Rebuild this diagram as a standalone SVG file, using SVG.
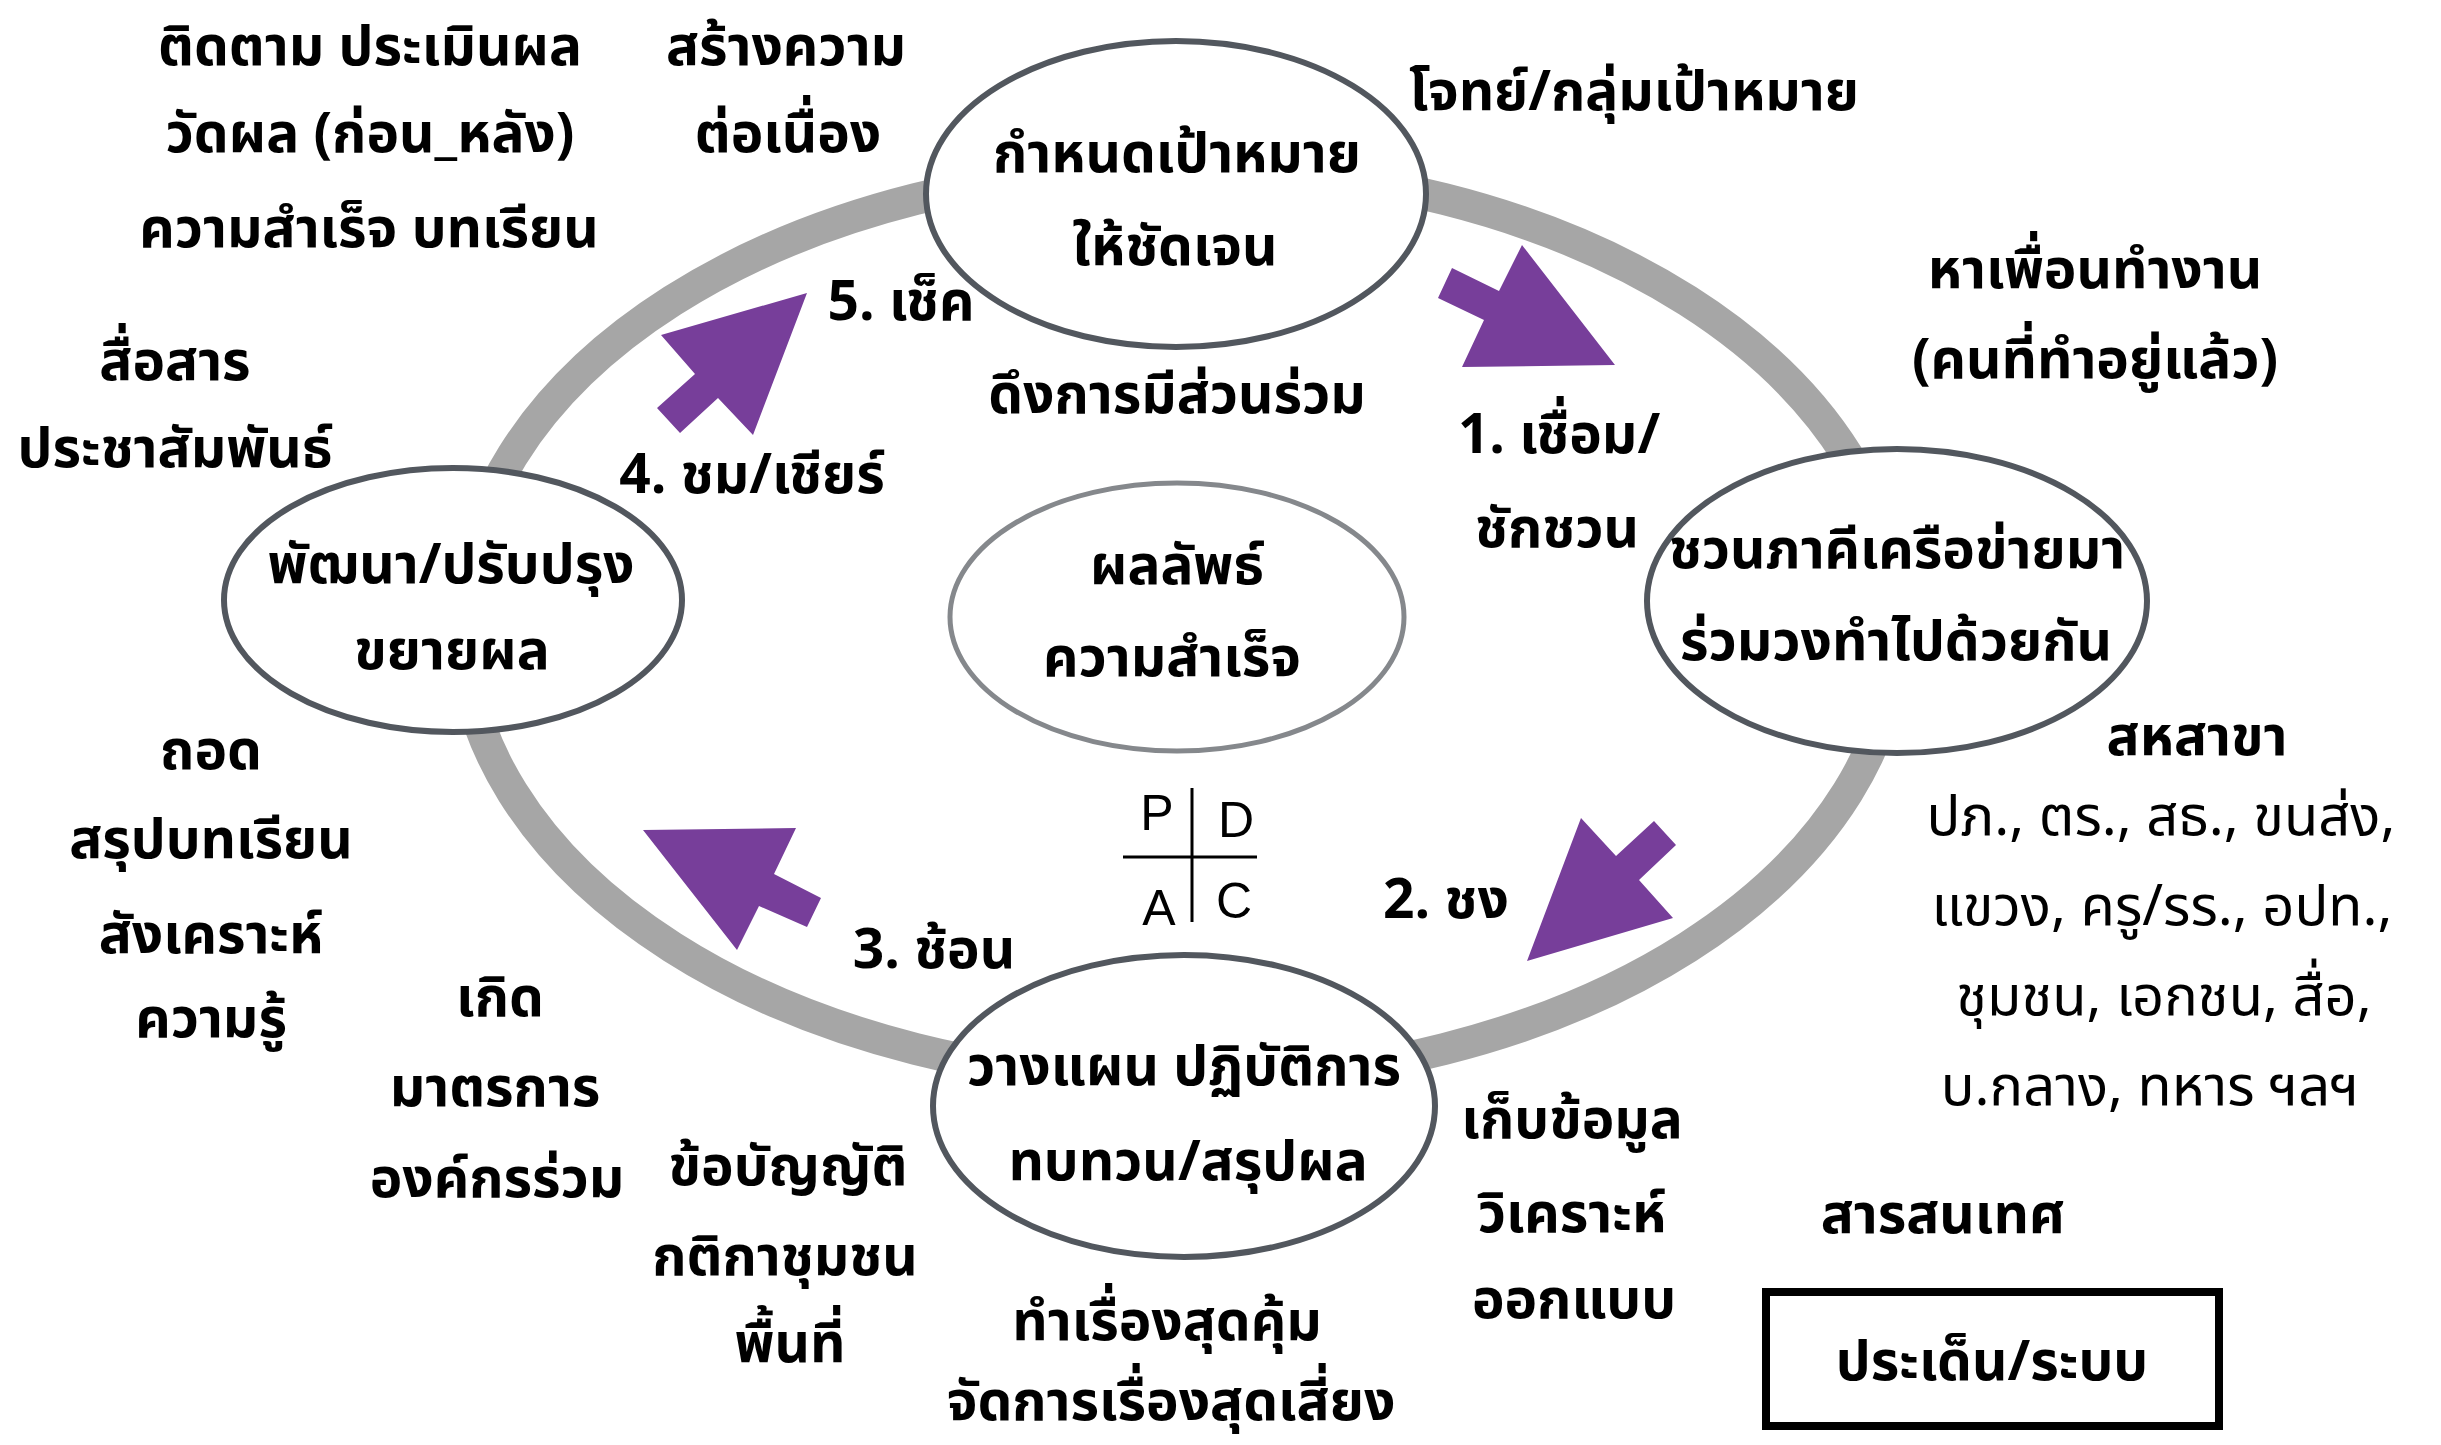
<svg xmlns="http://www.w3.org/2000/svg" width="2441" height="1445" viewBox="0 0 2441 1445">
<style>
text{font-family:"Noto Sans Thai","Noto Sans","DejaVu Sans",sans-serif;font-size:55px;font-weight:bold;fill:#000;text-anchor:middle}
.n{font-weight:normal;font-size:56px}
.pd{font-family:"Liberation Sans",Arial,sans-serif;font-size:50px;font-weight:normal}
.node{fill:#fff;stroke:#52575e;stroke-width:6}
.mid{fill:#fff;stroke:#85888c;stroke-width:5}
.arr{fill:#773e9a}
</style>
<rect width="2441" height="1445" fill="#fff"/>
<g id="connectors">
<ellipse cx="1180" cy="624" rx="718" ry="457" fill="none" stroke="#a6a6a6" stroke-width="32"/>
<polygon class="arr" points="1452,268 1499,291 1522,245 1615,365 1462,367 1484,320 1438,298"/>
<polygon class="arr" points="1654,821 1676,845 1639,880 1673,918 1527,961 1581,818 1616,856"/>
<polygon class="arr" points="643,830 796,828 774,874 821,898 807,927 759,906 737,950"/>
<polygon class="arr" points="661,335 807,293 753,435 718,398 680,433 657,408 695,374"/>
</g>
<g id="node-goal">
<ellipse class="node" cx="1176" cy="194" rx="250" ry="153"/>
<text x="1177" y="172">กำหนดเป้าหมาย</text>
<text x="1175" y="265">ให้ชัดเจน</text>
</g>
<g id="node-network">
<ellipse class="node" cx="1897" cy="601" rx="250" ry="152"/>
<text x="1897" y="568">ชวนภาคีเครือข่ายมา</text>
<text x="1896" y="660">ร่วมวงทำไปด้วยกัน</text>
</g>
<g id="node-develop">
<ellipse class="node" cx="453" cy="600" rx="229" ry="132"/>
<text x="451" y="583">พัฒนา/ปรับปรุง</text>
<text x="452" y="669">ขยายผล</text>
</g>
<g id="node-plan">
<ellipse class="node" cx="1184" cy="1106" rx="251" ry="151"/>
<text x="1184" y="1085">วางแผน ปฏิบัติการ</text>
<text x="1188" y="1180">ทบทวน/สรุปผล</text>
</g>
<g id="node-result">
<ellipse class="mid" cx="1177" cy="617" rx="227" ry="134"/>
<text x="1177" y="584">ผลลัพธ์</text>
<text x="1172" y="676">ความสำเร็จ</text>
</g>
<g id="pdca">
<line x1="1192" y1="788" x2="1192" y2="922" stroke="#000" stroke-width="3"/>
<line x1="1123" y1="857" x2="1257" y2="857" stroke="#000" stroke-width="3"/>
<text class="pd" x="1157" y="830">P</text>
<text class="pd" x="1236" y="837">D</text>
<text class="pd" x="1159" y="925">A</text>
<text class="pd" x="1234" y="918">C</text>
</g>
<g id="labels">
<text x="370" y="65">ติดตาม ประเมินผล</text>
<text x="370" y="152">วัดผล (ก่อน_หลัง)</text>
<text x="369" y="247">ความสำเร็จ บทเรียน</text>
<text x="786" y="65">สร้างความ</text>
<text x="788" y="152">ต่อเนื่อง</text>
<text x="901" y="320">5. เช็ค</text>
<text x="175" y="380">สื่อสาร</text>
<text x="175" y="467">ประชาสัมพันธ์</text>
<text x="752" y="493">4. ชม/เชียร์</text>
<text x="1177" y="413">ดึงการมีส่วนร่วม</text>
<text x="1634" y="110">โจทย์/กลุ่มเป้าหมาย</text>
<text x="2095" y="288">หาเพื่อนทำงาน</text>
<text x="2095" y="378">(คนที่ทำอยู่แล้ว)</text>
<text x="1559" y="453">1. เชื่อม/</text>
<text x="1557" y="547">ชักชวน</text>
<text x="2197" y="755">สหสาขา</text>
<text class="n" x="2161" y="835">ปภ., ตร., สธ., ขนส่ง,</text>
<text class="n" x="2162" y="925">แขวง, ครู/รร., อปท.,</text>
<text class="n" x="2164" y="1015">ชุมชน, เอกชน, สื่อ,</text>
<text class="n" x="2150" y="1105">บ.กลาง, ทหาร ฯลฯ</text>
<text x="1943" y="1233">สารสนเทศ</text>
<text x="1446" y="918">2. ชง</text>
<text x="934" y="968">3. ช้อน</text>
<text x="211" y="769">ถอด</text>
<text x="211" y="858">สรุปบทเรียน</text>
<text x="211" y="953">สังเคราะห์</text>
<text x="211" y="1037">ความรู้</text>
<text x="500" y="1016">เกิด</text>
<text x="495" y="1106">มาตรการ</text>
<text x="497" y="1197">องค์กรร่วม</text>
<text x="788" y="1185">ข้อบัญญัติ</text>
<text x="785" y="1275">กติกาชุมชน</text>
<text x="790" y="1362">พื้นที่</text>
<text x="1167" y="1340">ทำเรื่องสุดคุ้ม</text>
<text x="1171" y="1420">จัดการเรื่องสุดเสี่ยง</text>
<text x="1572" y="1138">เก็บข้อมูล</text>
<text x="1572" y="1232">วิเคราะห์</text>
<text x="1574" y="1318">ออกแบบ</text>
</g>
<g id="node-legend">
<rect x="1766" y="1292" width="453" height="134" fill="#fff" stroke="#000" stroke-width="8"/>
<text x="1992" y="1380">ประเด็น/ระบบ</text>
</g>
</svg>
